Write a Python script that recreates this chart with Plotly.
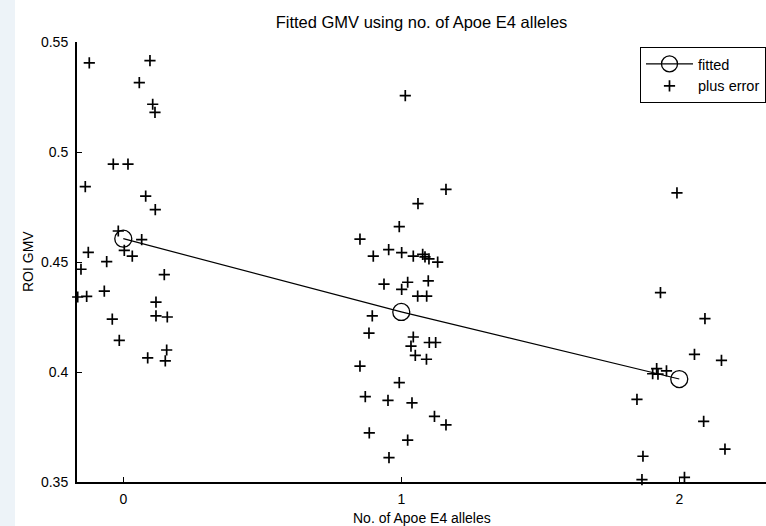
import plotly.graph_objects as go

# Fitted values
fit_x = [0, 1, 2]
fit_y = [0.4606, 0.4273, 0.3968]

# Observed values ("plus error"), grouped by number of alleles (jittered x)
g0_x = [-0.1223, 0.0960, 0.0576, 0.1058, 0.1140, -0.0360, 0.0169, -0.1367, 0.0806, 0.1151,
        -0.0180, 0.0662, 0.0036, 0.0324, -0.1259, -0.0597, -0.1522, 0.1475, -0.1640, -0.1317,
        -0.0683, 0.1176, 0.1176, 0.1583, -0.0396, -0.0144, 0.1561, 0.0878, 0.1511]
g0_y = [0.5405, 0.5415, 0.5315, 0.5217, 0.5180, 0.4945, 0.4945, 0.4843, 0.4799, 0.4738,
        0.4641, 0.4602, 0.4553, 0.4527, 0.4544, 0.4502, 0.4467, 0.4443, 0.4341, 0.4344,
        0.4368, 0.4318, 0.4255, 0.4250, 0.4240, 0.4144, 0.4100, 0.4064, 0.4051]

g1_x = [1.0144, 1.1608, 1.0601, 0.9928, 0.8514, 0.8993, 0.9547, 1.0014, 1.0432, 1.0770,
        1.0853, 1.0996, 1.1309, 0.9378, 1.0230, 1.0014, 1.0971, 1.0590, 1.0914, 0.8957,
        0.8838, 1.0432, 1.0349, 1.1007, 1.1237, 1.0504, 1.0906, 0.8514, 0.9928, 0.8705,
        0.9522, 1.0385, 1.1194, 1.1608, 0.8849, 1.0230, 0.9558]
g1_y = [0.5256, 0.4830, 0.4765, 0.4661, 0.4604, 0.4527, 0.4556, 0.4543, 0.4527, 0.4535,
        0.4523, 0.4514, 0.4499, 0.4399, 0.4408, 0.4376, 0.4414, 0.4345, 0.4345, 0.4255,
        0.4177, 0.4159, 0.4118, 0.4134, 0.4134, 0.4076, 0.4058, 0.4027, 0.3952, 0.3888,
        0.3871, 0.3860, 0.3798, 0.3760, 0.3723, 0.3690, 0.3611]

g2_x = [1.9917, 1.9324, 2.0924, 2.0547, 2.1518, 1.9187, 1.9540, 1.9043, 1.9234, 1.8478,
        2.0878, 2.1644, 1.8694, 1.8658, 2.0187]
g2_y = [0.4814, 0.4361, 0.4243, 0.4080, 0.4053, 0.4015, 0.4005, 0.3992, 0.3990, 0.3876,
        0.3776, 0.3649, 0.3617, 0.3511, 0.3521]

x_ticks = [0, 1, 2]
y_ticks = [0.35, 0.4, 0.45, 0.5, 0.55]
y_tick_text = ["0.35", "0.4", "0.45", "0.5", "0.55"]

pts_x = g0_x + g1_x + g2_x
pts_y = g0_y + g1_y + g2_y

FONT = "Liberation Sans, Arial, Helvetica, sans-serif"

fig = go.Figure()
fig.add_trace(go.Scatter(
    x=fit_x, y=fit_y, mode="lines+markers", name="fitted",
    line=dict(color="black", width=1.2),
    marker=dict(symbol="circle-open", size=17, color="black", line=dict(width=1.3)),
    cliponaxis=False,
))
fig.add_trace(go.Scatter(
    x=pts_x, y=pts_y, mode="markers", name="plus error",
    marker=dict(symbol="cross-thin", size=8, color="black", line=dict(width=1.7, color="black")),
    cliponaxis=False,
))

W, H = 766, 526
ML, MR, MT, MB = 77, 0, 42, 44
PW = W - ML - MR
PH = H - MT - MB

fig.update_layout(
    width=W, height=H,
    margin=dict(l=ML, r=MR, t=MT, b=MB),
    paper_bgcolor="white", plot_bgcolor="white",
    font=dict(family=FONT, color="black", size=14),
    showlegend=True,
    title=dict(text="Fitted GMV using no. of Apoe E4 alleles", x=0.5, xref="paper",
               y=1 - 22 / H, yref="container", yanchor="middle",
               font=dict(family=FONT, size=16.5, color="black")),
    legend=dict(x=1, xanchor="right", y=1 - 5 / PH, yanchor="top",
                bgcolor="white", bordercolor="black", borderwidth=1,
                font=dict(family=FONT, size=14.5, color="black"),
                itemwidth=47, tracegroupgap=0),
    xaxis=dict(range=[-0.1665, 2.312], tickvals=x_ticks, ticks="inside", ticklen=5,
               tickwidth=1, tickcolor="black", showline=True, linecolor="black", linewidth=2,
               showgrid=False, zeroline=False, ticklabelstandoff=3,
               tickfont=dict(family=FONT, size=14, color="black")),
    yaxis=dict(range=[0.35, 0.55], tickvals=y_ticks, ticktext=y_tick_text, ticks="inside",
               ticklen=5, tickwidth=1, tickcolor="black", showline=True, linecolor="black",
               linewidth=2, showgrid=False, zeroline=False, ticklabelstandoff=4,
               tickfont=dict(family=FONT, size=14, color="black")),
    shapes=[dict(type="rect", xref="paper", yref="paper",
                 x0=-ML / PW, x1=(15 - ML) / PW, y0=-0.2, y1=1.2,
                 fillcolor="#edf3f8", line=dict(width=0), layer="below")],
    annotations=[
        dict(text="ROI GMV", xref="paper", yref="paper", x=0, y=0.5, xanchor="center",
             yanchor="middle", xshift=28 - ML, textangle=-90, showarrow=False,
             font=dict(family=FONT, size=14, color="black")),
        dict(text="No. of Apoe E4 alleles", xref="paper", yref="paper", x=0.5, y=0,
             xanchor="center", yanchor="middle", yshift=-(518 - (H - MB)), showarrow=False,
             font=dict(family=FONT, size=14, color="black")),
    ],
)

fig.write_html(
    "out.html",
    config={"displayModeBar": False},
    post_script="document.body.style.margin='0';document.body.style.overflow='hidden';",
)
